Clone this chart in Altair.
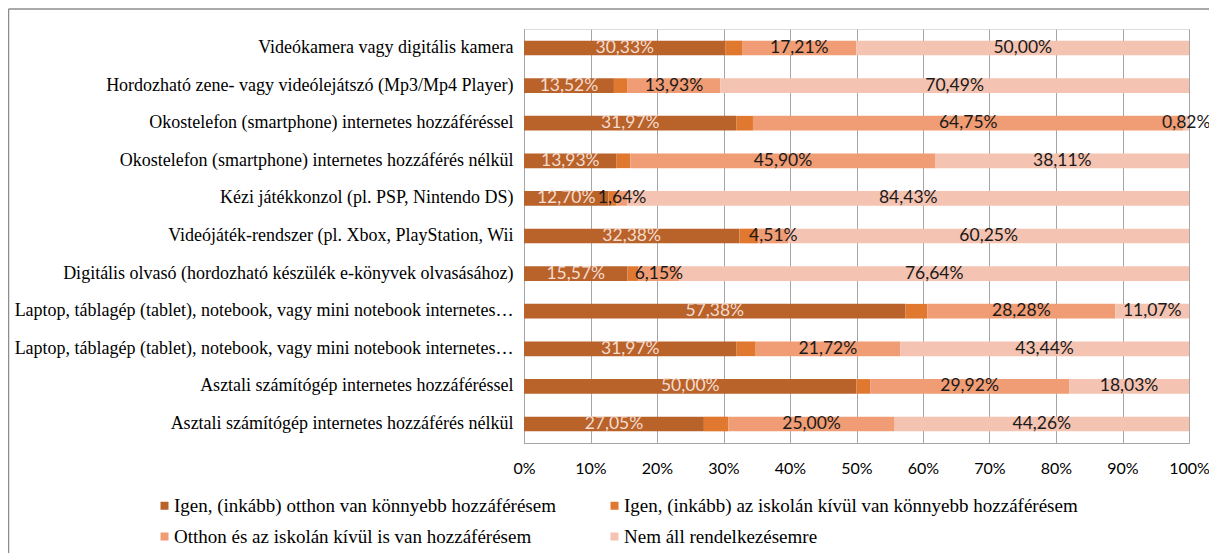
import altair as alt
import pandas as pd

categories = [
    "Videókamera vagy digitális kamera",
    "Hordozható zene- vagy videólejátszó (Mp3/Mp4 Player)",
    "Okostelefon (smartphone) internetes hozzáféréssel",
    "Okostelefon (smartphone) internetes hozzáférés nélkül",
    "Kézi játékkonzol (pl. PSP, Nintendo DS)",
    "Videójáték-rendszer (pl. Xbox, PlayStation, Wii",
    "Digitális olvasó (hordozható készülék e-könyvek olvasásához)",
    "Laptop, táblagép (tablet), notebook, vagy mini notebook internetes hozzáféréssel",
    "Laptop, táblagép (tablet), notebook, vagy mini notebook internetes hozzáférés nélkül",
    "Asztali számítógép internetes hozzáféréssel",
    "Asztali számítógép internetes hozzáférés nélkül",
]

series_names = [
    "Igen, (inkább) otthon van könnyebb hozzáférésem",
    "Igen, (inkább) az iskolán kívül van könnyebb hozzáférésem",
    "Otthon és az iskolán kívül is van hozzáférésem",
    "Nem áll rendelkezésemre",
]

s1 = [30.33, 13.52, 31.97, 13.93, 12.70, 32.38, 15.57, 57.38, 31.97, 50.00, 27.05]
s2 = [2.46, 2.06, 2.46, 2.06, 1.23, 2.86, 1.64, 3.27, 2.87, 2.05, 3.69]
s3 = [17.21, 13.93, 64.75, 45.90, 1.64, 4.51, 6.15, 28.28, 21.72, 29.92, 25.00]
s4 = [50.00, 70.49, 0.82, 38.11, 84.43, 60.25, 76.64, 11.07, 43.44, 18.03, 44.26]

colors = ["#B9622A", "#E0782F", "#F09C74", "#F5C3B1"]

rows = []
for si, (name, vals) in enumerate(zip(series_names, [s1, s2, s3, s4])):
    for cat, v in zip(categories, vals):
        rows.append({"category": cat, "series": name, "idx": si, "value": v})
df = pd.DataFrame(rows)

# legend fills column by column: order so that rows read s1 s2 / s3 s4
legend_order = [0, 2, 1, 3]
color_domain = [series_names[i] for i in legend_order]
color_range = [colors[i] for i in legend_order]

serif = "Liberation Serif"
sans = "Lato"
grid_col = "#A6A6A6"

y_enc = alt.Y(
    "category:N",
    sort=categories,
    title=None,
    scale=alt.Scale(paddingInner=0.61, paddingOuter=0.31),
    axis=alt.Axis(
        labelFont=serif, labelFontSize=18, labelColor="#000000",
        labelPadding=11, labelLimit=1000, ticks=False,
        domainColor=grid_col, domainWidth=1,
        labelExpr="substring(datum.label, 0, 6) == 'Laptop' ? 'Laptop, táblagép (tablet), notebook, vagy mini notebook internetes…' : datum.label",
    ),
)

base = alt.Chart(df)

bars = base.mark_bar().encode(
    x=alt.X(
        "value:Q", stack="zero", title=None,
        scale=alt.Scale(domain=[0, 100], nice=False),
        axis=alt.Axis(
            values=[0, 10, 20, 30, 40, 50, 60, 70, 80, 90, 100],
            labelExpr="datum.value + '%'",
            labelFont=sans, labelFontSize=16, labelColor="#000000",
            labelPadding=17, labelFlush=False, ticks=False, grid=True,
            gridColor=grid_col, gridWidth=1, domainColor=grid_col, domainWidth=1,
        ),
    ),
    y=y_enc,
    color=alt.Color(
        "series:N",
        scale=alt.Scale(domain=color_domain, range=color_range),
        legend=alt.Legend(
            title=None, orient="none", legendX=-372, legendY=467,
            columns=2, columnPadding=46, rowPadding=11,
            symbolType="square", symbolSize=64, symbolStrokeWidth=0,
            symbolOffset=3,
            labelFont=serif, labelFontSize=19, labelColor="#000000",
            labelOffset=0, labelLimit=1000,
        ),
    ),
    order=alt.Order("idx:Q"),
)

labels = base.transform_stack(
    stack="value", groupby=["category"], as_=["v0", "v1"],
    sort=[alt.SortField("idx", order="ascending")],
).transform_calculate(
    mid="(datum.v0 + datum.v1) / 2",
    label="replace(format(datum.value, '.2f'), '.', ',') + '%'",
).transform_filter(
    "datum.idx != 1"
).mark_text(font=sans, fontSize=17.5, baseline="middle", align="center").encode(
    x=alt.X("mid:Q"),
    y=alt.Y("category:N", sort=categories),
    text="label:N",
    color=alt.condition("datum.idx == 0", alt.value("#F3DCD0"), alt.value("#1A1A1A")),
)

frame_df = pd.DataFrame({"a": [0]})
frame_left = alt.Chart(frame_df).mark_rule(color="#8C8C8C", strokeWidth=1.5).encode(
    x=alt.value(-515.5), y=alt.value(-20), y2=alt.value(540)
)
frame_top = alt.Chart(frame_df).mark_rule(color="#8C8C8C", strokeWidth=1.5).encode(
    x=alt.value(-515.5), x2=alt.value(700), y=alt.value(-20)
)

chart = alt.layer(bars, labels, frame_left, frame_top).properties(
    width=665,
    height=414,
    autosize=alt.AutoSizeParams(type="none"),
    padding={"left": 516, "top": 21, "right": 20, "bottom": 110},
).configure_view(stroke="transparent").configure(background="#FFFFFF")

chart.save("out.html", embed_options={"renderer": "svg", "actions": False})
